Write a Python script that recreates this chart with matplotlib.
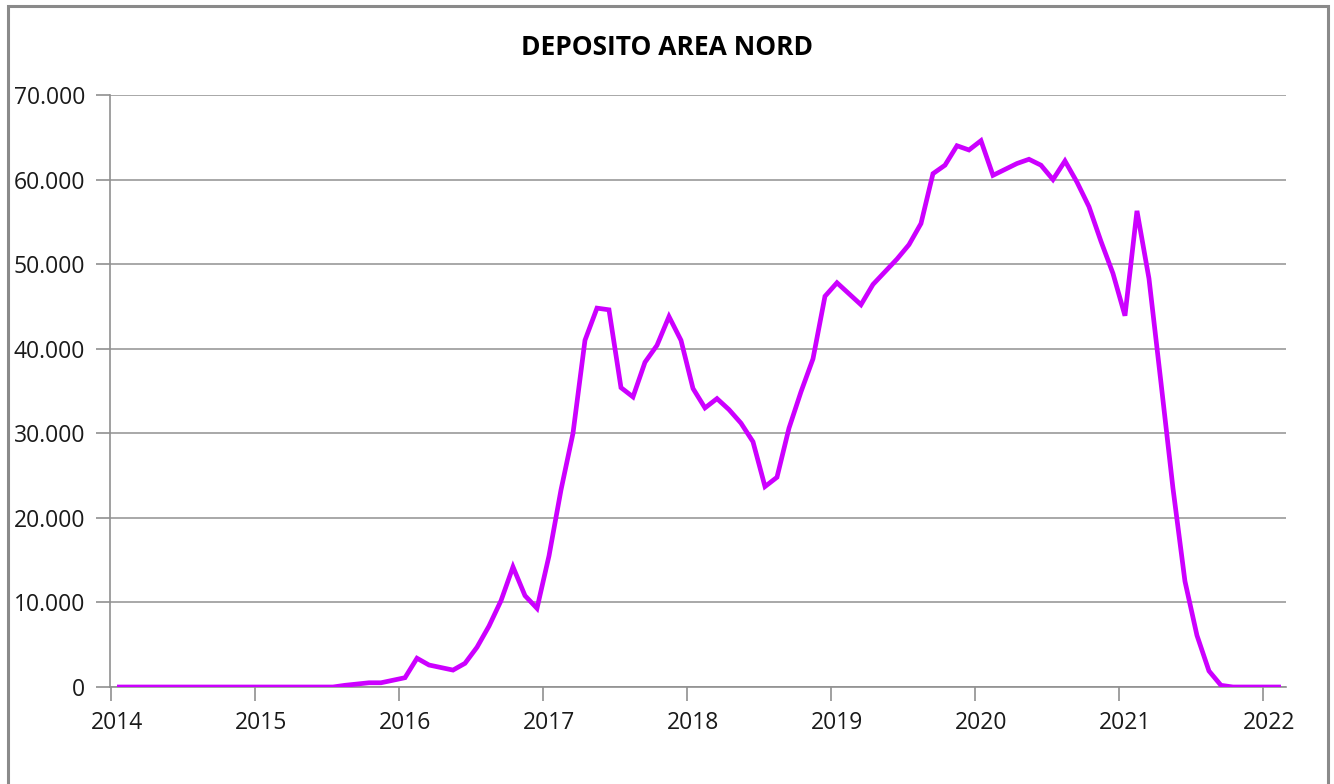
import matplotlib
matplotlib.use("Agg")
import matplotlib.pyplot as plt
from matplotlib.patches import Rectangle
from matplotlib.ticker import FuncFormatter, FixedLocator

plt.rcParams['font.family'] = ['Open Sans', 'DejaVu Sans']

# Monthly values (units), Jan 2014 .. Feb 2022
v2014 = [0, 0, 0, 0, 0, 0, 0, 0, 0, 0, 0, 0]
v2015 = [0, 0, 0, 0, 0, 0, 0, 200, 350, 500, 500, 800]
v2016 = [1100, 3400, 2600, 2300, 2000, 2800, 4700, 7200, 10200, 14200, 10800, 9300]
v2017 = [15500, 23300, 30000, 41000, 44800, 44600, 35400, 34300, 38400, 40400, 43800, 41000]
v2018 = [35300, 33000, 34100, 32800, 31200, 29000, 23700, 24800, 30600, 34900, 38800, 46200]
v2019 = [47800, 46500, 45200, 47600, 49100, 50600, 52300, 54800, 60700, 61700, 64000, 63500]
v2020 = [64600, 60500, 61200, 61900, 62400, 61700, 60000, 62200, 59700, 56800, 52700, 48900]
v2021 = [43900, 56300, 48300, 36000, 23500, 12500, 6100, 1900, 200, 0, 0, 0]
v2022 = [0, 0]

years = [2014, 2015, 2016, 2017, 2018, 2019, 2020, 2021, 2022]
series = [v2014, v2015, v2016, v2017, v2018, v2019, v2020, v2021, v2022]

xs, ys = [], []
for yr, vals in zip(years, series):
    for m, v in enumerate(vals):
        xs.append(yr + (m + 0.5) / 12.0)
        ys.append(v)

title = "DEPOSITO AREA NORD"
yticks = [0, 10000, 20000, 30000, 40000, 50000, 60000, 70000]

W, H = 1334, 784
fig = plt.figure(figsize=(W / 100, H / 100), dpi=100)
fig.patch.set_facecolor('white')

# outer chart border
fig.patches.append(Rectangle((8 / W, -0.05), (1328 - 8) / W, (H - 6) / H + 0.05,
                             transform=fig.transFigure, fill=False,
                             edgecolor='#8a8a8a', linewidth=2.2))

ax = fig.add_axes([110 / W, (H - 687) / H, (1286 - 110) / W, (687 - 95) / H])
ax.plot(xs, ys, color='#CC00FF', linewidth=3.4, solid_joinstyle='miter',
        solid_capstyle='butt', zorder=3)

ax.set_xlim(2013.993, 2022.16)
ax.set_ylim(0, 70000)

ax.set_yticks(yticks)
ax.yaxis.set_major_formatter(FuncFormatter(lambda v, p: f"{int(v):,}".replace(",", ".")))
ax.grid(axis='y', color='#9A9A9A', linewidth=1.2, zorder=1)

# x ticks at year boundaries, labels slightly offset (centered on January)
ax.xaxis.set_major_locator(FixedLocator(years))
ax.set_xticklabels([])
ax.xaxis.set_minor_locator(FixedLocator([y + 0.042 for y in years]))
ax.set_xticklabels([str(y) for y in years], minor=True)
ax.tick_params(axis='x', which='minor', length=0, pad=17, labelsize=16.5, colors='#1a1a1a')
ax.tick_params(axis='x', which='major', length=10, width=1.2, color='#909090', direction='out')
ax.tick_params(axis='y', length=10, width=1.2, color='#909090', direction='out',
               pad=8, labelsize=16.5, labelcolor='#1a1a1a')

for s in ['top', 'right']:
    ax.spines[s].set_visible(False)
for s in ['left', 'bottom']:
    ax.spines[s].set_color('#909090')
    ax.spines[s].set_linewidth(1.2)

fig.text(667 / W, 1 - 47.5 / H, title, ha='center', va='center',
         fontsize=19, fontweight='bold', color='black')

fig.savefig('out.png', dpi=100, facecolor='white')
